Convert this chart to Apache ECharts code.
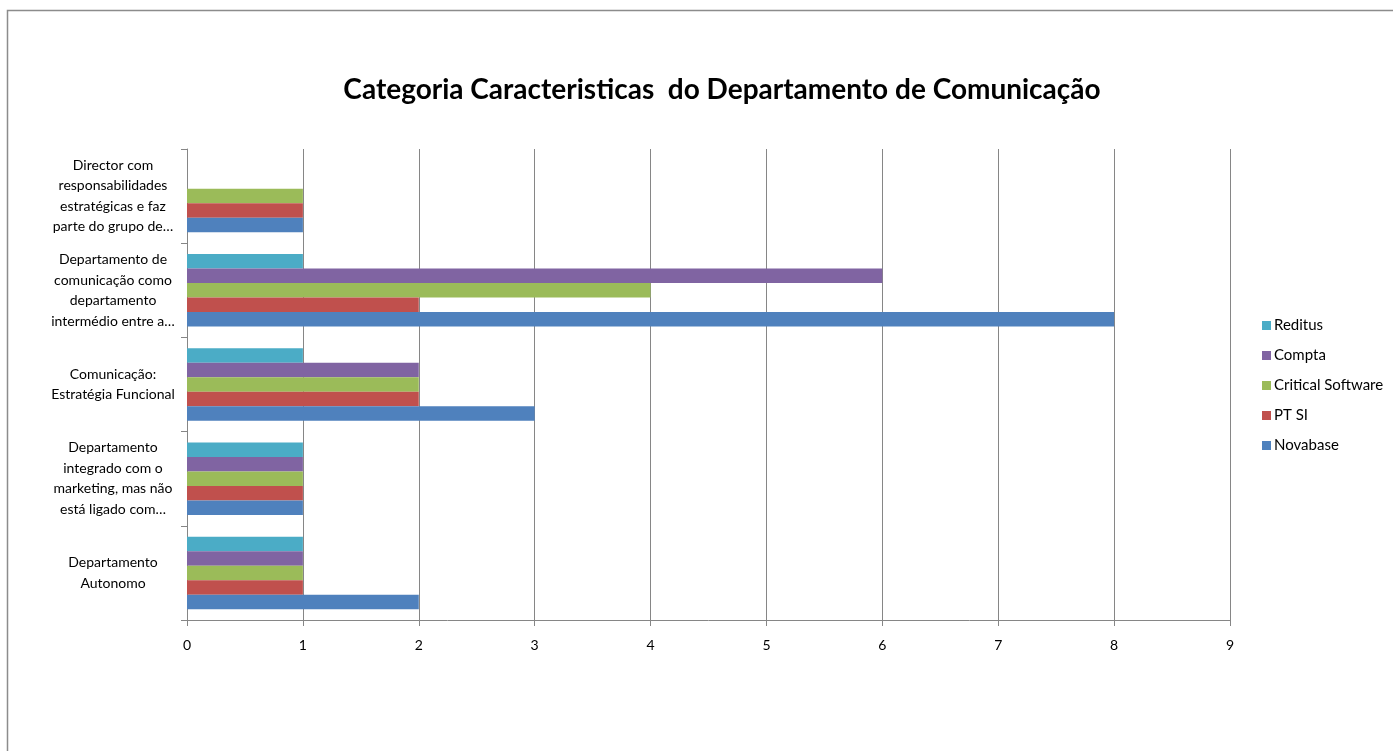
<html>
<head>
  <meta charset="utf-8">
  <title>Categoria Caracteristicas do Departamento de Comunicação</title>
  <script src="https://cdn.jsdelivr.net/npm/echarts@6/dist/echarts.min.js"></script>
<style>
  body { margin: 0; background-color: white }
</style>
  <script type="text/javascript">

    // categories, bottom to top (ECharts y category axis starts at the bottom)
    var categories = [
      'Departamento\nAutonomo',
      'Departamento\nintegrado com o\nmarketing, mas não\nestá ligado com…',
      'Comunicação:\nEstratégia Funcional',
      'Departamento de\ncomunicação como\ndepartamento\nintermédio entre a…',
      'Director com\nresponsabilidades\nestratégicas e faz\nparte do grupo de…'
    ];

    var novabase = [2, 1, 3, 8, 1];
    var ptsi     = [1, 1, 2, 2, 1];
    var critical = [1, 1, 2, 4, 1];
    var compta   = [1, 1, 2, 6, null];
    var reditus  = [1, 1, 1, 1, null];

    // first series is drawn at the top of each group
    var seriesNames = ['Reditus', 'Compta', 'Critical Software', 'PT SI', 'Novabase'];
    var seriesData = [reditus, compta, critical, ptsi, novabase];
    var colors = ['#4BACC6', '#8064A2', '#9BBB59', '#C0504D', '#4F81BD'];

    var FONT = 'Lato, "Liberation Sans", sans-serif';

    function init() {
      var myChart = echarts.init(document.getElementById('main'), null, {renderer: 'canvas'});

      var series = seriesNames.map(function (name, i) {
        return {
          name: name,
          type: 'bar',
          data: seriesData[i],
          barGap: '0%',
          barCategoryGap: '23%',
          itemStyle: { color: colors[i] }
        };
      });

      var option = {
        animation: false,
        backgroundColor: '#ffffff',
        color: colors,
        title: {
          text: 'Categoria Caracteristicas  do Departamento de Comunicação',
          left: 717, top: 71, textAlign: 'center',
          textStyle: { fontFamily: FONT, fontSize: 28, fontWeight: 'bold', color: '#000' }
        },
        legend: {
          orient: 'vertical',
          left: 1257, top: 313,
          itemWidth: 9, itemHeight: 9, itemGap: 15,
          icon: 'rect',
          data: seriesNames,
          textStyle: { fontFamily: FONT, fontSize: 15, color: '#000', padding: [0, 0, 0, -2] }
        },
        grid: { left: 187, right: 163, top: 149, bottom: 131, containLabel: false },
        xAxis: {
          type: 'value', min: 0, max: 9, interval: 1,
          axisLine: { show: true, lineStyle: { color: '#868686' } },
          axisTick: { show: true, length: 6, lineStyle: { color: '#868686' } },
          splitLine: { show: true, lineStyle: { color: '#868686' } },
          axisLabel: { fontFamily: FONT, fontSize: 14, color: '#000', margin: 18 }
        },
        yAxis: {
          type: 'category',
          data: categories,
          axisLine: { show: true, lineStyle: { color: '#868686' } },
          axisTick: { show: true, length: 6, lineStyle: { color: '#868686' } },
          axisLabel: {
            fontFamily: FONT, fontSize: 14, color: '#000',
            align: 'center', margin: 74, lineHeight: 20.5
          }
        },
        graphic: [{
          type: 'rect',
          shape: { x: 7.5, y: 10.5, width: 1500, height: 900 },
          style: { fill: null, stroke: '#8c8c8c', lineWidth: 1.5 },
          silent: true
        }],
        series: series
      };
      myChart.setOption(option);
    }
  </script>
</head>
<body onload="init();">
  <div id="main" style="width: 1393px; height: 751px;"></div>
</body>
</html>
